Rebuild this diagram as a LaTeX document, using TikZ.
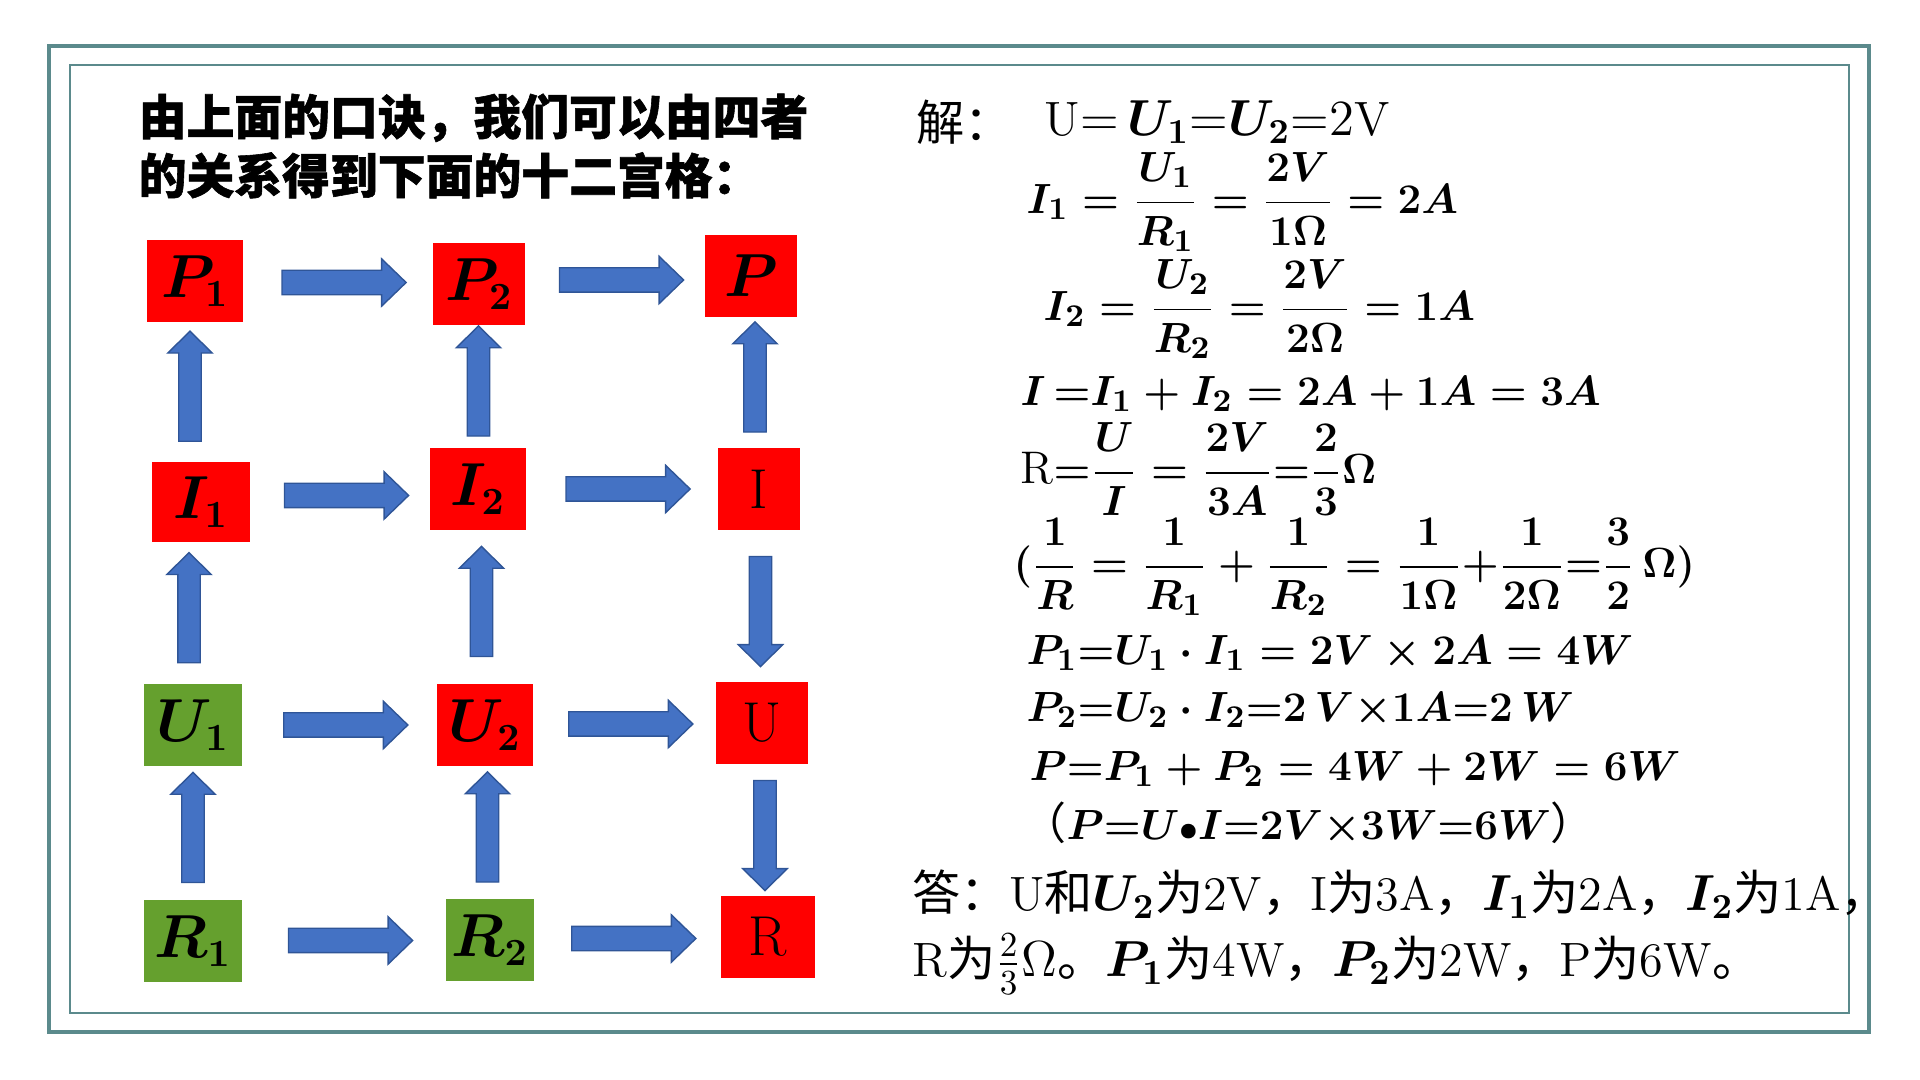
\documentclass[tikz,border=0pt]{standalone}
\usepackage{fontspec}
\usepackage{amsmath,bm}
\newfontfamily\cjk{Noto Sans CJK SC}
\newfontfamily\cjkhead{Noto Sans CJK SC}[BoldFeatures={FakeBold=1.2}]
\newcommand{\zh}[1]{{\cjk #1}}
\usetikzlibrary{shapes.arrows}

\definecolor{cellred}{RGB}{255,0,0}
\definecolor{cellgreen}{RGB}{101,160,46}
\definecolor{flowblue}{RGB}{68,114,196}
\definecolor{flowedge}{RGB}{47,85,151}
\definecolor{frameteal}{RGB}{91,138,140}

\tikzset{
  cell/.style={minimum width=0.95cm, minimum height=0.81cm, inner sep=0pt,
    font=\fontsize{16}{19}\selectfont\boldmath},
  hot/.style={cell, fill=cellred},
  given/.style={cell, fill=cellgreen},
  flow/.style={single arrow, draw=flowedge, fill=flowblue, line width=0.4pt,
    inner sep=0.115cm, minimum height=1.24cm,
    single arrow head extend=0.115cm, single arrow tip angle=88},
  rflow/.style={flow},
  uflow/.style={flow, shape border rotate=90, inner sep=0.105cm,
    minimum height=1.10cm, single arrow head extend=0.11cm, single arrow tip angle=91},
  dflow/.style={uflow, shape border rotate=270},
  eqn/.style={anchor=west, inner sep=0pt, font=\fontsize{13}{16}\selectfont\boldmath},
  ans/.style={anchor=west, inner sep=0pt, font=\fontsize{13.7}{16}\selectfont},
}

\begin{document}
\begin{tikzpicture}[x=0.01cm, y=-0.01cm]
  \useasboundingbox (0,0) rectangle (1920,1080);
  % Double frame
  \draw[frameteal, line width=0.04cm] (49,46) rectangle (1869,1032);
  \draw[frameteal, line width=0.02cm] (70,65) rectangle (1849,1013);

  % Heading
  \node[anchor=west, inner sep=0pt, align=left,
    font=\cjkhead\bfseries\fontsize{13.6}{16.8}\selectfont] (head) at (138,146)
    {由上面的口诀，我们可以由四者\\的关系得到下面的十二宫格：};

  % The twelve cells
  \node[hot] (p1) at (195,281) {$P_1$};
  \node[hot, minimum width=0.92cm] (p2) at (479,284) {$P_2$};
  \node[hot, minimum width=0.91cm] (p) at (751,276) {$P$};
  \node[hot, minimum width=0.98cm, minimum height=0.80cm] (i1) at (201,502) {$I_1$};
  \node[hot] (i2) at (478,489) {$I_2$};
  \node[hot, minimum width=0.82cm] (i) at (759,489) {I};
  \node[given, minimum width=0.98cm] (u1) at (193,725) {$U_1$};
  \node[hot, minimum width=0.96cm] (u2) at (485,725) {$U_2$};
  \node[hot, minimum width=0.92cm] (u) at (762,723) {U};
  \node[given, minimum width=0.98cm] (r1) at (193,941) {$R_1$};
  \node[given, minimum width=0.87cm] (r2) at (490,940) {$R_2$};
  \node[hot, minimum width=0.93cm] (r) at (768,937) {R};

  % Block arrows between the cells
  \path (p1) -- (p2) node[midway, rflow] {};
  \path (p2) -- (p) node[midway, rflow] {};
  \path (i1) -- (i2) node[midway, rflow] {};
  \path (i2) -- (i) node[midway, rflow] {};
  \path (u1) -- (u2) node[midway, rflow] {};
  \path (u2) -- (u) node[midway, rflow] {};
  \path (r1) -- (r2) node[midway, rflow] {};
  \path (r2) -- (r) node[midway, rflow] {};
  \path (i1) -- (p1) node[midway, uflow, xshift=-0.08cm] {};
  \path (u1) -- (i1) node[midway, uflow, xshift=-0.08cm] {};
  \path (r1) -- (u1) node[midway, uflow] {};
  \path (i2) -- (p2) node[midway, uflow] {};
  \path (u2) -- (i2) node[midway, uflow] {};
  \path (r2) -- (u2) node[midway, uflow] {};
  \path (i) -- (p) node[midway, uflow] {};
  \path (i) -- (u) node[midway, dflow] {};
  \path (u) -- (r) node[midway, dflow] {};

  % Worked solution
  \node[ans] (sol) at (916,122) {\zh{解：}};
  \node[ans] (eqU) at (1044,122) {$\text{U}{=}\,\bm{U_1}{=}\bm{U_2}{=}2\text{V}$};
  \node[eqn] (eqI1) at (1026,202) {$I_1 = \dfrac{U_1}{R_1} = \dfrac{2V}{1\Omega} = 2A$};
  \node[eqn] (eqI2) at (1043,309) {$I_2= \dfrac{U_2}{R_2} = \dfrac{2V}{2\Omega} = 1A$};
  \node[eqn] (eqI) at (1020,394) {$I\,{=}I_1 + I_2 = 2A + 1A = 3A$};
  \node[eqn] (eqR) at (1020,469) {$\text{R}{=}\dfrac{U}{I} = \dfrac{2V}{3A}{=}\dfrac{2}{3}\Omega$};
  \node[eqn] (eqRR) at (1013,567)
    {$(\dfrac{1}{R} = \dfrac{1}{R_1} + \dfrac{1}{R_2} = \dfrac{1}{1\Omega}{+}\dfrac{1}{2\Omega}{=}\dfrac{3}{2}\,\Omega)$};
  \node[eqn] (eqP1) at (1026,653) {$P_1{=}U_1\cdot I_1 = 2V \times 2A = 4W$};
  \node[eqn] (eqP2) at (1026,710) {$P_2{=}U_2\cdot I_2{=}2\,V{\times}1A{=}2\,W$};
  \node[eqn] (eqP) at (1029,769) {$P{=}P_1 + P_2 = 4W + 2W = 6W$};
  \node[eqn, font=\fontsize{12.5}{15}\selectfont\boldmath] (eqPc) at (1022,824)
    {\zh{（}$P{=}U{\scriptstyle\bullet}I{=}2V{\times}3W{=}6W$\zh{）}};

  % Answer
  \node[ans] (ans1) at (912,894)
    {\zh{答：}U\zh{和}$\bm{U_2}$\zh{为}2V\zh{，}I\zh{为}3A\zh{，}$\bm{I_1}$\zh{为}2A\zh{，}$\bm{I_2}$\zh{为}1A\zh{，}};
  \node[ans] (ans2) at (912,964)
    {R\zh{为}$\frac{2}{3}\Omega$\zh{。}$\bm{P_1}$\zh{为}4W\zh{，}$\bm{P_2}$\zh{为}2W\zh{，}P\zh{为}6W\zh{。}};
\end{tikzpicture}
\end{document}
